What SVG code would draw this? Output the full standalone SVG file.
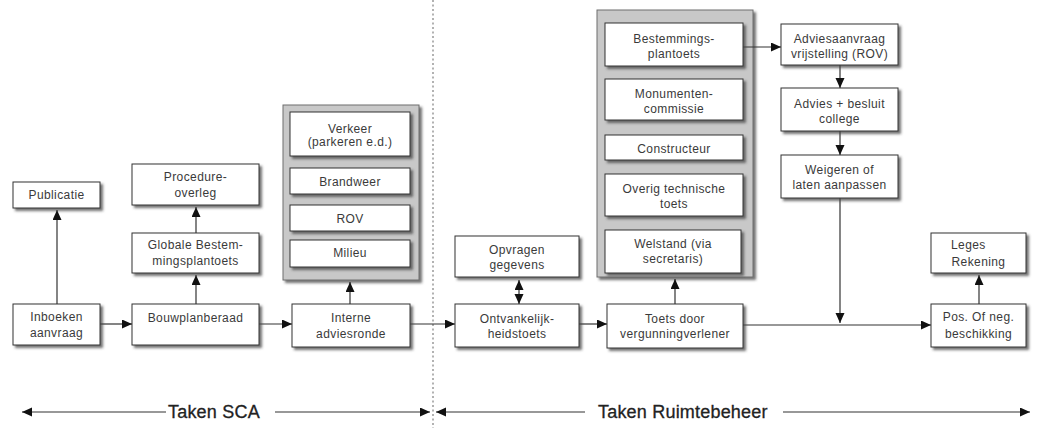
<svg xmlns="http://www.w3.org/2000/svg" width="1037" height="428" viewBox="0 0 1037 428">
<style>
.box{fill:#fff;stroke:#333;stroke-width:1;filter:url(#sh)}
.cont{fill:#c8c8c8;stroke:#6e6e6e;stroke-width:1;filter:url(#sh)}
.t{font-family:"Liberation Sans",Arial,sans-serif;font-size:12px;letter-spacing:0.4px;fill:#3a3a3a;text-anchor:middle}
.big{font-family:"Liberation Sans",Arial,sans-serif;font-size:18px;letter-spacing:0.2px;fill:#222;stroke:#222;stroke-width:0.3}
.c{fill:none;stroke:#333;stroke-width:1.2}
</style>
<defs>
<filter id="sh" x="-10%" y="-10%" width="130%" height="140%">
<feDropShadow dx="2.5" dy="2.5" stdDeviation="0.8" flood-color="#444" flood-opacity="0.75"/>
</filter>
<marker id="ar" markerUnits="userSpaceOnUse" markerWidth="12" markerHeight="10" refX="10" refY="4.5" orient="auto-start-reverse" viewBox="0 0 12 10">
<path d="M0,0 L10,4.5 L0,9 z" fill="#111"/>
</marker>
</defs>
<rect width="1037" height="428" fill="#fff"/>
<line x1="433" y1="0" x2="433" y2="428" stroke="#999" stroke-width="1.5" stroke-dasharray="2,2.5"/>

<g id="containers">
<rect class="cont" x="283" y="105" width="136" height="175"/>
<rect class="cont" x="597" y="10" width="156" height="267"/>
</g>

<g id="connectors">
<line class="c" x1="57" y1="304" x2="57" y2="210" marker-end="url(#ar)"/>
<line class="c" x1="196" y1="304" x2="196" y2="275" marker-end="url(#ar)"/>
<line class="c" x1="196" y1="233" x2="196" y2="207" marker-end="url(#ar)"/>
<line class="c" x1="100" y1="324" x2="132" y2="324" marker-end="url(#ar)"/>
<line class="c" x1="259" y1="324" x2="292" y2="324" marker-end="url(#ar)"/>
<line class="c" x1="350" y1="304" x2="350" y2="282" marker-end="url(#ar)"/>
<line class="c" x1="410" y1="324" x2="455" y2="324" marker-end="url(#ar)"/>
<line class="c" x1="519" y1="280" x2="519" y2="304" marker-start="url(#ar)" marker-end="url(#ar)"/>
<line class="c" x1="579" y1="324" x2="607" y2="324" marker-end="url(#ar)"/>
<line class="c" x1="675" y1="304" x2="675" y2="279" marker-end="url(#ar)"/>
<line class="c" x1="743" y1="47" x2="781" y2="47" marker-end="url(#ar)"/>
<line class="c" x1="840" y1="65" x2="840" y2="88" marker-end="url(#ar)"/>
<line class="c" x1="840" y1="131" x2="840" y2="155" marker-end="url(#ar)"/>
<line class="c" x1="840" y1="198" x2="840" y2="323" marker-end="url(#ar)"/>
<line class="c" x1="743" y1="325" x2="931" y2="325" marker-end="url(#ar)"/>
<line class="c" x1="979" y1="304" x2="979" y2="275" marker-end="url(#ar)"/>
<line class="c" x1="166" y1="412" x2="22" y2="412" marker-end="url(#ar)"/>
<line class="c" x1="275" y1="412" x2="430" y2="412" marker-end="url(#ar)"/>
<line class="c" x1="585" y1="412" x2="436" y2="412" marker-end="url(#ar)"/>
<line class="c" x1="783" y1="412" x2="1030" y2="412" marker-end="url(#ar)"/>
</g>

<g id="publicatie"><rect class="box" x="13" y="182" width="87" height="26"/><text class="t" x="56.5" y="199">Publicatie</text></g>
<g id="procedure"><rect class="box" x="132" y="164" width="127" height="41"/><text class="t" x="195.5" y="181">Procedure-</text><text class="t" x="195.5" y="196.5">overleg</text></g>
<g id="globale"><rect class="box" x="132" y="233" width="127" height="40"/><text class="t" x="195.5" y="249">Globale Bestem-</text><text class="t" x="195.5" y="265">mingsplantoets</text></g>
<g id="inboeken"><rect class="box" x="13" y="304" width="87" height="41"/><text class="t" x="56.5" y="321">Inboeken</text><text class="t" x="56.5" y="337">aanvraag</text></g>
<g id="bouwplanberaad"><rect class="box" x="132" y="304" width="127" height="41"/><text class="t" x="195.5" y="322">Bouwplanberaad</text></g>
<g id="verkeer"><rect class="box" x="290" y="112" width="120" height="44"/><text class="t" x="350" y="132.5">Verkeer</text><text class="t" x="350" y="146">(parkeren e.d.)</text></g>
<g id="brandweer"><rect class="box" x="290" y="168" width="120" height="26"/><text class="t" x="350" y="186">Brandweer</text></g>
<g id="rov"><rect class="box" x="290" y="205" width="120" height="26"/><text class="t" x="350" y="222.5">ROV</text></g>
<g id="milieu"><rect class="box" x="290" y="240" width="120" height="27"/><text class="t" x="350" y="256.5">Milieu</text></g>
<g id="interne"><rect class="box" x="292" y="304" width="118" height="43"/><text class="t" x="351" y="322">Interne</text><text class="t" x="351" y="337.5">adviesronde</text></g>
<g id="opvragen"><rect class="box" x="455" y="236" width="124" height="41"/><text class="t" x="517" y="253.5">Opvragen</text><text class="t" x="517" y="268.5">gegevens</text></g>
<g id="ontvankelijk"><rect class="box" x="455" y="304" width="124" height="43"/><text class="t" x="517" y="322.5">Ontvankelijk-</text><text class="t" x="517" y="338">heidstoets</text></g>
<g id="toets"><rect class="box" x="607" y="304" width="136" height="44"/><text class="t" x="675" y="322.5">Toets door</text><text class="t" x="675" y="338">vergunningverlener</text></g>
<g id="bestemmings"><rect class="box" x="605" y="23" width="138" height="43"/><text class="t" x="674" y="42.5">Bestemmings-</text><text class="t" x="674" y="57.5">plantoets</text></g>
<g id="monumenten"><rect class="box" x="605" y="79" width="138" height="41"/><text class="t" x="674" y="97.5">Monumenten-</text><text class="t" x="674" y="112.5">commissie</text></g>
<g id="constructeur"><rect class="box" x="605" y="135" width="138" height="25"/><text class="t" x="674" y="152.5">Constructeur</text></g>
<g id="overig"><rect class="box" x="605" y="174" width="138" height="42"/><text class="t" x="674" y="192.5">Overig technische</text><text class="t" x="674" y="207.5">toets</text></g>
<g id="welstand"><rect class="box" x="605" y="230" width="136" height="43"/><text class="t" x="673" y="247.5">Welstand (via</text><text class="t" x="673" y="262.5">secretaris)</text></g>
<g id="adviesaanvraag"><rect class="box" x="781" y="24" width="117" height="41"/><text class="t" x="839.5" y="42.5">Adviesaanvraag</text><text class="t" x="839.5" y="57.5">vrijstelling (ROV)</text></g>
<g id="advies"><rect class="box" x="781" y="88" width="117" height="43"/><text class="t" x="839.5" y="107.5">Advies + besluit</text><text class="t" x="839.5" y="122.5">college</text></g>
<g id="weigeren"><rect class="box" x="781" y="155" width="117" height="43"/><text class="t" x="839.5" y="173.5">Weigeren of</text><text class="t" x="839.5" y="189">laten aanpassen</text></g>
<g id="leges"><rect class="box" x="931" y="233" width="95" height="40"/><text class="t" x="951" y="249" style="text-anchor:start">Leges</text><text class="t" x="978.5" y="266">Rekening</text></g>
<g id="pos"><rect class="box" x="931" y="304" width="95" height="43"/><text class="t" x="978.5" y="321">Pos. Of neg.</text><text class="t" x="978.5" y="337.5">beschikking</text></g>

<g id="labels">
<text class="big" x="168" y="418">Taken SCA</text>
<text class="big" x="598" y="418">Taken Ruimtebeheer</text>
</g>
</svg>
